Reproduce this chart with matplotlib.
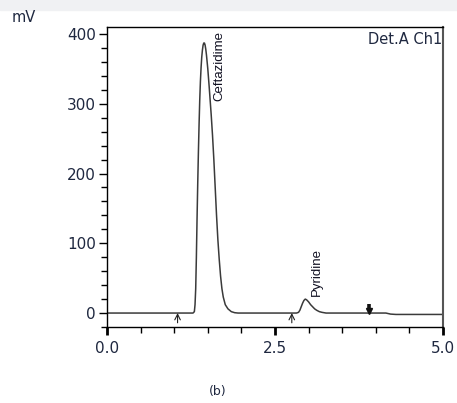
import matplotlib
matplotlib.use("Agg")
import matplotlib.pyplot as plt
from matplotlib.patches import Rectangle
from matplotlib.ticker import MultipleLocator, FormatStrFormatter

# chromatogram trace (min, mV)
time = [0.0, 1.00, 1.28, 1.30, 1.31, 1.32, 1.33, 1.34, 1.35, 1.36, 1.37, 1.38,
        1.39, 1.40, 1.41, 1.42, 1.43, 1.44, 1.45, 1.46, 1.47, 1.48, 1.50, 1.52,
        1.55, 1.57, 1.59, 1.61, 1.63, 1.65, 1.67, 1.69, 1.71, 1.73, 1.76, 1.80,
        1.85, 1.90, 1.95, 2.50,
        2.82, 2.85, 2.87, 2.89, 2.91, 2.93, 2.95, 2.97, 3.00, 3.03, 3.06, 3.09,
        3.12, 3.16, 3.20, 3.26, 3.80, 4.15, 4.22, 4.30, 5.0]
signal = [0.0, 0.0, 0.0, 2.0, 12.0, 35.0, 80.0, 135.0, 185.0, 230.0, 270.0, 305.0,
          332.0, 352.0, 367.0, 377.0, 384.0, 387.0, 387.0, 384.0, 378.0, 370.0, 350.0, 325.0,
          285.0, 255.0, 220.0, 180.0, 140.0, 105.0, 77.0, 53.0, 35.0, 23.0, 12.0, 6.0,
          2.0, 0.5, 0.0, 0.0,
          0.0, 1.0, 4.0, 9.0, 14.0, 18.0, 20.0, 19.0, 16.0, 12.0, 9.0, 6.0,
          4.0, 2.0, 1.0, 0.0, 0.0, 0.0, -1.5, -2.0, -2.0]

peak_names = ["Ceftazidime", "Pyridine"]
peak_label_pos = [(1.67, 404), (3.13, 24)]
start_marks = [1.05, 2.75]
stop_mark = 3.9

txt = "#1f2840"

fig = plt.figure(figsize=(4.57, 4.03), dpi=100)
fig.patches.append(Rectangle((0, 1 - 10 / 403), 1, 10 / 403, transform=fig.transFigure,
                             color="#f0f1f3", zorder=0))
ax = fig.add_axes([107 / 457, 1 - 327 / 403, 336 / 457, 300 / 403])

ax.plot(time, signal, color="#3a3a3a", lw=1.1)

for t in start_marks:
    ax.annotate("", xy=(t, 0), xytext=(t, -14),
                arrowprops=dict(arrowstyle="->", color="#222222", lw=0.8,
                                shrinkA=0, shrinkB=0))
# integration stop mark: thick bar with small head pointing down to baseline
ax.plot([stop_mark, stop_mark], [13, 4], color="#111111", lw=2.6, solid_capstyle="butt")
ax.plot([stop_mark], [3], marker="v", color="#111111", markersize=4)

fam = ["Liberation Sans Narrow", "Liberation Sans", "DejaVu Sans"]
ax.text(peak_label_pos[0][0], peak_label_pos[0][1], peak_names[0], rotation=90,
        ha="center", va="top", fontsize=9.5, color="#111122", family=fam)
ax.text(peak_label_pos[1][0], peak_label_pos[1][1], peak_names[1], rotation=90,
        ha="center", va="bottom", fontsize=9.5, color="#111122", family=fam)

ax.text(0.997, 0.985, "Det.A Ch1", transform=ax.transAxes, ha="right", va="top",
        fontsize=10.5, color=txt, family="DejaVu Sans")

ax.set_xlim(0, 5.0)
ax.set_ylim(-20, 410)
ax.xaxis.set_major_locator(MultipleLocator(2.5))
ax.xaxis.set_minor_locator(MultipleLocator(0.5))
ax.xaxis.set_major_formatter(FormatStrFormatter("%.1f"))
ax.yaxis.set_major_locator(MultipleLocator(100))
ax.yaxis.set_minor_locator(MultipleLocator(20))
ax.tick_params(which="major", direction="out", length=6, width=1.0,
               labelsize=11, labelcolor=txt, pad=2)
ax.tick_params(which="minor", direction="out", length=4, width=1.0)
ax.tick_params(axis="x", which="major", width=2.0, pad=4)
for s in ax.spines.values():
    s.set_linewidth(1.0)
ax.spines["right"].set_color("#555555")
ax.spines["right"].set_linewidth(1.5)

fig.text(12 / 457, 1 - 17 / 403, "mV", fontsize=10.5, color=txt, va="center")
fig.text(218 / 457, 1 - 392 / 403, "(b)", fontsize=9, color=txt, ha="center", va="center")

fig.savefig("out.png", dpi=100)
